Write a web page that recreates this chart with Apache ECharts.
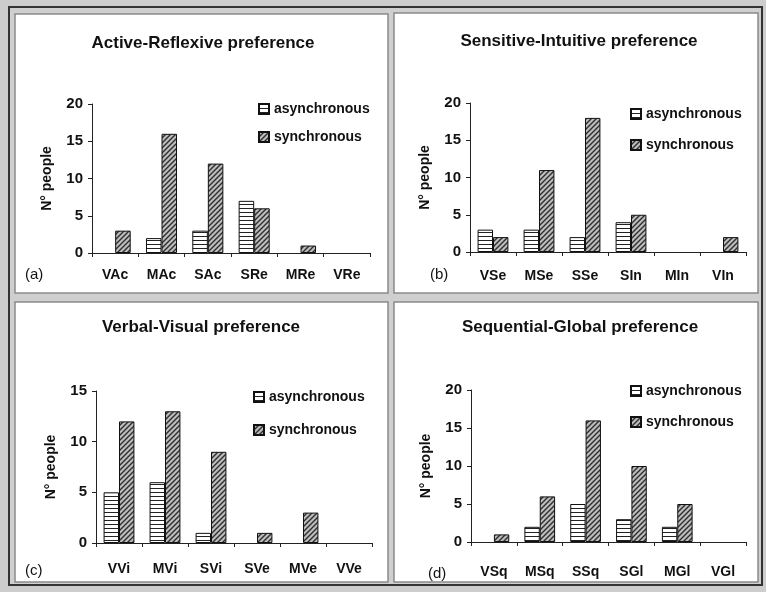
<!DOCTYPE html>
<html><head><meta charset="utf-8">
<script src="https://cdn.jsdelivr.net/npm/echarts@6/dist/echarts.min.js"></script>
<style>html,body{margin:0;padding:0;background:#cdcdcd}#c{width:766px;height:592px}</style>
</head><body><div id="c"></div>
<script>
// ---- data ----
const seriesNames = ['asynchronous', 'synchronous'];
const yAxisName = 'N° people';

const titleA = 'Active-Reflexive preference';
const catsA = ['VAc', 'MAc', 'SAc', 'SRe', 'MRe', 'VRe'];
const asyncA = [0, 2, 3, 7, 0, 0];
const syncA = [3, 16, 12, 6, 1, 0];
const maxA = 20;

const titleB = 'Sensitive-Intuitive preference';
const catsB = ['VSe', 'MSe', 'SSe', 'SIn', 'MIn', 'VIn'];
const asyncB = [3, 3, 2, 4, 0, 0];
const syncB = [2, 11, 18, 5, 0, 2];
const maxB = 20;

const titleC = 'Verbal-Visual preference';
const catsC = ['VVi', 'MVi', 'SVi', 'SVe', 'MVe', 'VVe'];
const asyncC = [5, 6, 1, 0, 0, 0];
const syncC = [12, 13, 9, 1, 3, 0];
const maxC = 15;

const titleD = 'Sequential-Global preference';
const catsD = ['VSq', 'MSq', 'SSq', 'SGl', 'MGl', 'VGl'];
const asyncD = [0, 2, 5, 3, 2, 0];
const syncD = [1, 6, 16, 10, 5, 0];
const maxD = 20;

const tags = ['(a)', '(b)', '(c)', '(d)'];

// ---- patterns ----
function hPattern() {
  const c = document.createElement('canvas'); c.width = 4; c.height = 4;
  const g = c.getContext('2d');
  g.fillStyle = '#ffffff'; g.fillRect(0, 0, 4, 4);
  g.fillStyle = '#222222'; g.fillRect(0, 0, 4, 1);
  return { image: c, repeat: 'repeat' };
}
function dPattern() {
  const n = 5;
  const c = document.createElement('canvas'); c.width = n; c.height = n;
  const g = c.getContext('2d');
  g.fillStyle = '#bdbdbd'; g.fillRect(0, 0, n, n);
  g.strokeStyle = '#2e2e2e'; g.lineWidth = 1.4;
  g.beginPath();
  g.moveTo(-1, 1); g.lineTo(1, -1);
  g.moveTo(0, n); g.lineTo(n, 0);
  g.moveTo(n - 1, n + 1); g.lineTo(n + 1, n - 1);
  g.stroke();
  return { image: c, repeat: 'repeat' };
}
const patA = hPattern(), patS = dPattern();
const noZero = arr => arr.map(v => (v === 0 ? null : v));

const FONT = "'Liberation Sans', Arial, sans-serif";
const panels = [
  { title: titleA, cats: catsA, a: asyncA, s: syncA, max: maxA,
    grid: { left: 92, top: 104, width: 278, height: 149 }, tx: 198, ty: 30,
    lx: 253, ly: 97, lgap: 14, lm: 15, tagx: 25, tagy: 267, nameGap: 38 },
  { title: titleB, cats: catsB, a: asyncB, s: syncB, max: maxB,
    grid: { left: 470, top: 103, width: 276, height: 149 }, tx: 574, ty: 28,
    lx: 625, ly: 102, lgap: 17, lm: 17, tagx: 430, tagy: 267, nameGap: 38 },
  { title: titleC, cats: catsC, a: asyncC, s: syncC, max: maxC,
    grid: { left: 96, top: 391, width: 276, height: 152 }, tx: 196, ty: 314,
    lx: 248, ly: 385, lgap: 19, lm: 19, tagx: 25, tagy: 563, nameGap: 38 },
  { title: titleD, cats: catsD, a: asyncD, s: syncD, max: maxD,
    grid: { left: 471, top: 390, width: 275, height: 152 }, tx: 575, ty: 314,
    lx: 625, ly: 379, lgap: 17, lm: 23, tagx: 428, tagy: 566, nameGap: 38 }
];

const option = {
  backgroundColor: '#cdcdcd',
  animation: false,
  textStyle: { fontFamily: FONT },
  graphic: [],
  title: [], legend: [], grid: [], xAxis: [], yAxis: [], series: []
};

// frames
option.graphic.push({ type: 'rect', shape: { x: 9, y: 7, width: 753, height: 578 },
  style: { fill: '#cfcfcf', stroke: '#333', lineWidth: 2 }, z: -10 });
const frames = [[15, 14, 373, 279], [394, 13, 364, 280], [15, 302, 373, 280], [394, 302, 364, 280]];
frames.forEach(f => option.graphic.push({ type: 'rect', shape: { x: f[0], y: f[1], width: f[2], height: f[3] },
  style: { fill: '#fff', stroke: '#8a8a8a', lineWidth: 1.5 }, z: -9 }));

panels.forEach((p, i) => {
  option.title.push({ text: p.title, left: p.tx, top: p.ty, textAlign: 'center',
    textStyle: { fontFamily: FONT, fontWeight: 'bold', fontSize: 17, color: '#111' } });
  option.legend.push({ data: seriesNames, orient: 'vertical', left: p.lx, top: p.ly,
    itemWidth: 10, itemHeight: 10, itemGap: p.lgap, icon: 'rect',
    textStyle: { fontFamily: FONT, fontWeight: 'bold', fontSize: 14, color: '#111' } });
  option.grid.push(Object.assign({ containLabel: false }, p.grid));
  option.xAxis.push({ type: 'category', gridIndex: i, data: p.cats,
    axisLine: { lineStyle: { color: '#222', width: 1 } },
    axisTick: { show: true, length: 4, lineStyle: { color: '#222' } },
    axisLabel: { interval: 0, margin: p.lm, fontFamily: FONT, fontWeight: 'bold', fontSize: 14, color: '#111' },
    splitLine: { show: false } });
  option.yAxis.push({ type: 'value', gridIndex: i, min: 0, max: p.max, interval: 5,
    name: yAxisName, nameLocation: 'middle', nameGap: p.nameGap,
    nameTextStyle: { fontFamily: FONT, fontWeight: 'bold', fontSize: 14, color: '#111' },
    axisLine: { show: true, lineStyle: { color: '#222', width: 1 } },
    axisTick: { show: true, length: 4, lineStyle: { color: '#222' } },
    axisLabel: { margin: 9, fontFamily: FONT, fontWeight: 'bold', fontSize: 15, color: '#111' },
    splitLine: { show: false } });
  option.series.push({ type: 'bar', name: seriesNames[0], xAxisIndex: i, yAxisIndex: i, data: noZero(p.a),
    barGap: '0%', barCategoryGap: '33%',
    itemStyle: { color: patA, borderColor: '#111', borderWidth: 1 } });
  option.series.push({ type: 'bar', name: seriesNames[1], xAxisIndex: i, yAxisIndex: i, data: noZero(p.s),
    barGap: '0%', barCategoryGap: '33%',
    itemStyle: { color: patS, borderColor: '#111', borderWidth: 1 } });
  option.graphic.push({ type: 'text', left: p.tagx, top: p.tagy,
    style: { text: tags[i], font: '15px ' + FONT, fill: '#111' } });
});

const chart = echarts.init(document.getElementById('c'), null, { renderer: 'canvas' });
chart.setOption(option);
</script></body></html>
